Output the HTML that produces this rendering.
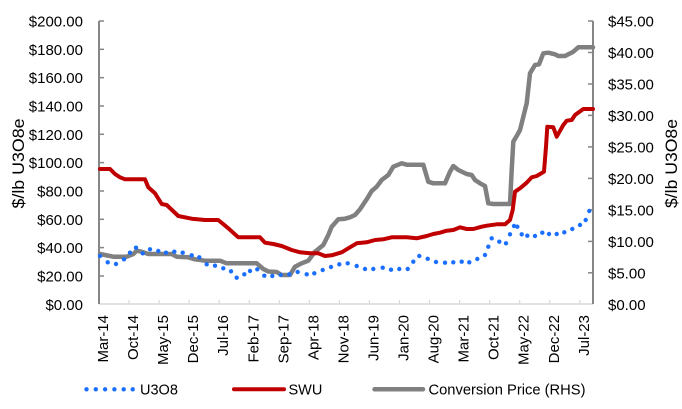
<!DOCTYPE html>
<html><head><meta charset="utf-8"><style>
html,body{margin:0;padding:0;background:#fff;}
svg{display:block;font-family:"Liberation Sans",Arial,sans-serif;}
</style></head><body>
<svg width="682" height="409" viewBox="0 0 682 409" xmlns="http://www.w3.org/2000/svg">
<rect width="682" height="409" fill="#fff"/>
<!-- x axis -->
<line x1="99" y1="304" x2="593" y2="304" stroke="#d9d9d9" stroke-width="1.5"/>
<g stroke="#d9d9d9" stroke-width="1.2">
<line x1="99" y1="300" x2="99" y2="304"/><line x1="129.05" y1="300" x2="129.05" y2="304"/><line x1="159.1" y1="300" x2="159.1" y2="304"/><line x1="189.15" y1="300" x2="189.15" y2="304"/><line x1="219.2" y1="300" x2="219.2" y2="304"/><line x1="249.25" y1="300" x2="249.25" y2="304"/><line x1="279.3" y1="300" x2="279.3" y2="304"/><line x1="309.35" y1="300" x2="309.35" y2="304"/><line x1="339.4" y1="300" x2="339.4" y2="304"/><line x1="369.45" y1="300" x2="369.45" y2="304"/><line x1="399.5" y1="300" x2="399.5" y2="304"/><line x1="429.55" y1="300" x2="429.55" y2="304"/><line x1="459.6" y1="300" x2="459.6" y2="304"/><line x1="489.65" y1="300" x2="489.65" y2="304"/><line x1="519.7" y1="300" x2="519.7" y2="304"/><line x1="549.75" y1="300" x2="549.75" y2="304"/><line x1="579.8" y1="300" x2="579.8" y2="304"/>
</g>
<!-- left axis -->
<line x1="99" y1="21" x2="99" y2="304" stroke="#868686" stroke-width="2"/>
<g stroke="#868686" stroke-width="1.5">
<line x1="99" y1="21" x2="104" y2="21"/><line x1="99" y1="49.33" x2="104" y2="49.33"/><line x1="99" y1="77.66" x2="104" y2="77.66"/><line x1="99" y1="106" x2="104" y2="106"/><line x1="99" y1="134.3" x2="104" y2="134.3"/><line x1="99" y1="162.6" x2="104" y2="162.6"/><line x1="99" y1="191" x2="104" y2="191"/><line x1="99" y1="219.3" x2="104" y2="219.3"/><line x1="99" y1="247.6" x2="104" y2="247.6"/><line x1="99" y1="276" x2="104" y2="276"/>
</g>
<!-- right axis -->
<line x1="593" y1="21" x2="593" y2="304" stroke="#868686" stroke-width="2"/>
<g stroke="#868686" stroke-width="1.5">
<line x1="588" y1="21" x2="593" y2="21"/><line x1="588" y1="52.5" x2="593" y2="52.5"/><line x1="588" y1="84" x2="593" y2="84"/><line x1="588" y1="115.4" x2="593" y2="115.4"/><line x1="588" y1="146.9" x2="593" y2="146.9"/><line x1="588" y1="178.4" x2="593" y2="178.4"/><line x1="588" y1="209.9" x2="593" y2="209.9"/><line x1="588" y1="241.4" x2="593" y2="241.4"/><line x1="588" y1="272.8" x2="593" y2="272.8"/>
</g>
<!-- left labels -->
<g font-size="15" fill="#000" text-anchor="end">
<text x="83" y="26.5">$200.00</text><text x="83" y="54.8">$180.00</text><text x="83" y="83.1">$160.00</text><text x="83" y="111.5">$140.00</text><text x="83" y="139.8">$120.00</text><text x="83" y="168.1">$100.00</text><text x="83" y="196.5">$80.00</text><text x="83" y="224.8">$60.00</text><text x="83" y="253.1">$40.00</text><text x="83" y="281.5">$20.00</text><text x="83" y="309.8">$0.00</text>
</g>
<!-- right labels -->
<g font-size="15" fill="#000">
<text x="608" y="26.5">$45.00</text><text x="608" y="58">$40.00</text><text x="608" y="89.5">$35.00</text><text x="608" y="120.9">$30.00</text><text x="608" y="152.4">$25.00</text><text x="608" y="183.9">$20.00</text><text x="608" y="215.4">$15.00</text><text x="608" y="246.9">$10.00</text><text x="608" y="278.3">$5.00</text><text x="608" y="309.8">$0.00</text>
</g>
<!-- axis titles -->
<text transform="translate(24,163.5) rotate(-90)" font-size="17" text-anchor="middle" textLength="90" lengthAdjust="spacingAndGlyphs">$/lb U3O8e</text>
<text transform="translate(677,163.5) rotate(-90)" font-size="17" text-anchor="middle" textLength="89" lengthAdjust="spacingAndGlyphs">$/lb U3O8e</text>
<!-- x labels -->
<g font-size="15" fill="#000" text-anchor="end">
<text transform="translate(108,315) rotate(-90)">Mar-14</text>
<text transform="translate(138.05,315) rotate(-90)">Oct-14</text>
<text transform="translate(168.1,315) rotate(-90)">May-15</text>
<text transform="translate(198.15,315) rotate(-90)">Dec-15</text>
<text transform="translate(228.2,315) rotate(-90)">Jul-16</text>
<text transform="translate(258.25,315) rotate(-90)">Feb-17</text>
<text transform="translate(288.3,315) rotate(-90)">Sep-17</text>
<text transform="translate(318.35,315) rotate(-90)">Apr-18</text>
<text transform="translate(348.4,315) rotate(-90)">Nov-18</text>
<text transform="translate(378.45,315) rotate(-90)">Jun-19</text>
<text transform="translate(408.5,315) rotate(-90)">Jan-20</text>
<text transform="translate(438.55,315) rotate(-90)">Aug-20</text>
<text transform="translate(468.6,315) rotate(-90)">Mar-21</text>
<text transform="translate(498.65,315) rotate(-90)">Oct-21</text>
<text transform="translate(528.7,315) rotate(-90)">May-22</text>
<text transform="translate(558.75,315) rotate(-90)">Dec-22</text>
<text transform="translate(588.8,315) rotate(-90)">Jul-23</text>
</g>
<!-- gray series -->
<polyline fill="none" stroke="#808080" stroke-width="4.5" stroke-linejoin="round" stroke-linecap="round" points="100,254 105,255 113.3,256.7 126.7,256.7 133.3,254 136.7,250.7 141.7,251.7 148.3,254 171.7,254 176.7,256.7 188.3,257.3 195,259.3 205,260.7 220,260.7 226.7,263.3 256.7,263.3 263.3,269 268.3,271.5 276.7,272 281.7,275 290,275 295,266.7 301.7,263.3 308.3,260.7 315,251.7 323.3,245 328.3,235 331.7,226.7 338.3,219.3 345,218.7 350,217.3 355,215 360,209.3 366.7,199.3 371.7,191 376.7,186.7 381.7,180 388.3,175 393.3,166.7 401.7,163.3 406.7,164.7 423.3,164.7 428.3,181.7 433.3,183.3 445,183.3 450,171.7 453.3,166 458.3,170 466.7,174 471.7,175 475,180 480,183.3 485,186 488.3,203.3 493.3,204 510,204 511.7,170 513.3,141.7 516.7,136 520,130 526.7,103.3 530,73.3 535,65 539,64.3 543.3,53.3 548.3,52.7 555,54.3 558.3,56 565,56 573.3,51.7 578.3,47.3 593,47.3"/>
<!-- red series -->
<polyline fill="none" stroke="#c00000" stroke-width="4" stroke-linejoin="round" stroke-linecap="round" points="100,169 110,169 115,174 120,177.3 125,179.3 145,179.3 148.3,187.3 155,193.3 161.7,204 166.7,205 178.3,216 191.7,218.7 205,220 218.3,220 228.3,228.3 238.3,237.3 260,237.3 265,242.7 273.3,244 281.7,246 291.7,250 300,252.3 310,253.3 318.3,253.3 325,256 331.7,255.3 341.7,252.3 348.3,248.3 356.7,243.3 366.7,242.3 375,240 383.3,239.3 391.7,237.3 406.7,237.3 416.7,238.3 426.7,236 433.3,234 440,232.7 446.7,230.7 453.3,230 460,227.3 466.7,229 473.3,229 481.7,226.7 486.7,225.7 496.7,224.3 505,224.3 510,220 512.7,210 515,191.7 520,188.3 526.7,182.7 531.7,177.3 536.7,176 544,171.7 546,146.7 547.3,126.7 553.3,127.3 556.7,136.7 563.3,125 566.7,120.7 571.7,120 575,115 583.3,109 593,109"/>
<!-- blue dots -->
<g fill="#1a6fff">
<circle cx="100" cy="256" r="2.2"/><circle cx="107.7" cy="262.3" r="2.2"/><circle cx="116" cy="264" r="2.2"/><circle cx="124" cy="259.3" r="2.2"/><circle cx="130" cy="252.7" r="2.2"/><circle cx="136" cy="247.7" r="2.2"/><circle cx="142.7" cy="253.3" r="2.2"/><circle cx="150" cy="249.3" r="2.2"/><circle cx="158.3" cy="251" r="2.2"/><circle cx="166" cy="252.7" r="2.2"/><circle cx="174.3" cy="251.7" r="2.2"/><circle cx="182.7" cy="252.7" r="2.2"/><circle cx="191.7" cy="255.3" r="2.2"/><circle cx="199.3" cy="257.3" r="2.2"/><circle cx="206.7" cy="264.3" r="2.2"/><circle cx="215" cy="265.7" r="2.2"/><circle cx="223.3" cy="268.3" r="2.2"/><circle cx="231" cy="271.3" r="2.2"/><circle cx="236.7" cy="277.7" r="2.2"/><circle cx="244.3" cy="274.3" r="2.2"/><circle cx="250" cy="271" r="2.2"/><circle cx="257.3" cy="269.3" r="2.2"/><circle cx="264.3" cy="275.7" r="2.2"/><circle cx="272.3" cy="276" r="2.2"/><circle cx="280.7" cy="275" r="2.2"/><circle cx="289.3" cy="274.3" r="2.2"/><circle cx="297.7" cy="272" r="2.2"/><circle cx="306.7" cy="274.3" r="2.2"/><circle cx="314.3" cy="273.3" r="2.2"/><circle cx="322.7" cy="270" r="2.2"/><circle cx="331" cy="267" r="2.2"/><circle cx="339.3" cy="264.3" r="2.2"/><circle cx="347.7" cy="263.3" r="2.2"/><circle cx="356.7" cy="266" r="2.2"/><circle cx="365" cy="269" r="2.2"/><circle cx="373.3" cy="269" r="2.2"/><circle cx="382.7" cy="267.7" r="2.2"/><circle cx="391" cy="269.7" r="2.2"/><circle cx="399.3" cy="269" r="2.2"/><circle cx="407.7" cy="269" r="2.2"/><circle cx="413.3" cy="261.7" r="2.2"/><circle cx="419.3" cy="256" r="2.2"/><circle cx="427.7" cy="258.8" r="2.2"/><circle cx="436" cy="262" r="2.2"/><circle cx="445" cy="262.7" r="2.2"/><circle cx="453.3" cy="262.3" r="2.2"/><circle cx="461.7" cy="261.7" r="2.2"/><circle cx="469.3" cy="262.3" r="2.2"/><circle cx="477.3" cy="259" r="2.2"/><circle cx="485" cy="255" r="2.2"/><circle cx="488.3" cy="246.7" r="2.2"/><circle cx="491.7" cy="238.3" r="2.2"/><circle cx="499.3" cy="241.7" r="2.2"/><circle cx="506" cy="243.3" r="2.2"/><circle cx="510" cy="234.3" r="2.2"/><circle cx="514" cy="226" r="2.2"/><circle cx="517.3" cy="226.7" r="2.2"/><circle cx="521.7" cy="234.3" r="2.2"/><circle cx="527.3" cy="235.7" r="2.2"/><circle cx="535" cy="236" r="2.2"/><circle cx="542.3" cy="232.7" r="2.2"/><circle cx="549" cy="234" r="2.2"/><circle cx="556.7" cy="234" r="2.2"/><circle cx="564.3" cy="232.3" r="2.2"/><circle cx="572.3" cy="229" r="2.2"/><circle cx="580" cy="225" r="2.2"/><circle cx="585.7" cy="220" r="2.2"/><circle cx="589.3" cy="211" r="2.2"/>
</g>
<!-- legend -->
<g fill="#1a6fff">
<circle cx="86.5" cy="389.3" r="2.2"/><circle cx="95.8" cy="389.3" r="2.2"/><circle cx="105.1" cy="389.3" r="2.2"/><circle cx="114.4" cy="389.3" r="2.2"/><circle cx="123.7" cy="389.3" r="2.2"/><circle cx="132.7" cy="389.3" r="2.2"/>
</g>
<text x="140" y="394.5" font-size="14.5">U3O8</text>
<line x1="234" y1="389.3" x2="284" y2="389.3" stroke="#c00000" stroke-width="4" stroke-linecap="round"/>
<text x="288.5" y="394.5" font-size="14.5">SWU</text>
<line x1="374.5" y1="389.3" x2="423" y2="389.3" stroke="#808080" stroke-width="4.5" stroke-linecap="round"/>
<text x="428.5" y="394.5" font-size="14.5" textLength="157" lengthAdjust="spacingAndGlyphs">Conversion Price (RHS)</text>
</svg>
</body></html>
